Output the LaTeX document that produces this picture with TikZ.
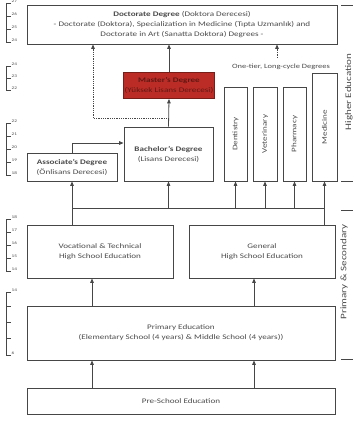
\documentclass[tikz,border=0pt]{standalone}
\usepackage{fontspec}
\setmainfont{Carlito}[FakeStretch=1.3]
\usetikzlibrary{arrows.meta}

\definecolor{linegray}{RGB}{70,70,70}
\definecolor{textgray}{RGB}{75,75,75}
\definecolor{masterred}{RGB}{188,44,38}
\definecolor{masterline}{RGB}{120,30,25}

\begin{document}
\begin{tikzpicture}[
            x=1pt, y=-1pt,
            box/.style={draw=linegray, line width=0.9pt, fill=white, inner sep=0pt,
                align=center, text=textgray, font=\fontsize{7}{10}\selectfont},
            arr/.style={draw=linegray, line width=0.8pt, -{Triangle[length=4.5pt,width=3.6pt]}},
            dotarr/.style={arr, densely dotted},
            agetick/.style={draw=linegray, line width=0.7pt},
            agelabel/.style={anchor=west, inner sep=0.5pt, text=textgray, font=\fontsize{4}{4}\selectfont},
            sidelabel/.style={rotate=90, text=textgray, font=\fontsize{8.5}{9}\selectfont}
        ]
            \useasboundingbox[fill=white] (0,0) rectangle (353,433);

            \node[box, minimum width=310pt, minimum height=39pt] (doc) at (182,24.5)
                {\textbf{Doctorate Degree} (Doktora Derecesi)\\
                 - Doctorate (Doktora), Specialization in Medicine (Tıpta Uzmanlık) and\\
                 Doctorate in Art (Sanatta Doktora) Degrees -};
            \node[box, fill=masterred, draw=masterline, text=masterline!80!black,
                minimum width=91pt, minimum height=26pt] (master) at (169,85.5)
                {\textbf{Master's Degree}\\(Yüksek Lisans Derecesi)};
            \node[box, minimum width=89pt, minimum height=54pt] (bach) at (168.5,154)
                {\textbf{Bachelor's Degree}\\(Lisans Derecesi)};
            \node[box, minimum width=90pt, minimum height=28pt] (assoc) at (72,167)
                {\textbf{Associate's Degree}\\(Önlisans Derecesi)};

            \node[text=textgray, font=\fontsize{6.5}{7}\selectfont] (tier) at (281,67)
                {One-tier, Long-cycle Degrees};
            \node[box, minimum width=23pt, minimum height=94pt] (dent) at (235.5,134)
                {\rotatebox{90}{Dentistry}};
            \node[box, minimum width=24pt, minimum height=94pt] (vet) at (265,134)
                {\rotatebox{90}{Veterinary}};
            \node[box, minimum width=23pt, minimum height=94pt] (pharm) at (294.5,134)
                {\rotatebox{90}{Pharmacy}};
            \node[box, minimum width=25pt, minimum height=108pt] (med) at (324.5,127)
                {\rotatebox{90}{Medicine}};

            \node[box, minimum width=146pt, minimum height=53pt] (voc) at (100,251.5)
                {Vocational \& Technical\\High School Education};
            \node[box, minimum width=146pt, minimum height=53pt] (gen) at (262,251.5)
                {General\\High School Education};
            \node[box, minimum width=308pt, minimum height=54pt] (prim) at (181,333)
                {Primary Education\\(Elementary School (4 years) \& Middle School (4 years))};
            \node[box, minimum width=308pt, minimum height=26pt] (pre) at (181,401)
                {Pre-School Education};

            \coordinate (busL) at (72,208);
            \coordinate (busR) at (324.5,208);
            \coordinate (split) at (168.5,118);
            \coordinate (dotcorner) at (93,118);
            \coordinate (tierx) at (277,58);

            \draw[arr] (voc.north -| assoc.south) -- (assoc.south);
            \draw[arr] (gen.north -| med.south) -- (med.south);
            \draw[draw=linegray, line width=0.8pt] (busL) -- (busR);
            \foreach \n in {bach,dent,vet,pharm} {
                \draw[arr] (busL -| \n.south) -- (\n.south);
            }
            \draw[arr] (assoc.north) |- ([yshift=11pt]bach.west);
            \draw[arr] (bach.north) -- (master.south);
            \draw[arr] (master.north) -- (master.north |- doc.south);
            \draw[dotarr] (split) -- (dotcorner) -- (dotcorner |- doc.south);
            \draw[dotarr] (tierx) -- (tierx |- doc.south);
            \foreach \n in {voc,gen} {
                \draw[arr] ([xshift=-8pt]prim.north -| \n.south) -- ([xshift=-8pt]\n.south);
                \draw[arr] ([xshift=-8pt]pre.north -| \n.south) -- ([xshift=-8pt]prim.south -| \n.south);
            }

            \foreach \ys/\age in {3/{27},16/{26},29/{25},42/{24}} {
                \draw[agetick] (6,\ys) -- (11,\ys);
                \node[agelabel] at (11,\ys-2) {\age};
            }
            \draw[agetick] (6,3) -- (6,42);
            \foreach \ys/\age in {66/{24},78/{23},90/{22}} {
                \draw[agetick] (6,\ys) -- (11,\ys);
                \node[agelabel] at (11,\ys-2) {\age};
            }
            \draw[agetick] (6,66) -- (6,90);
            \foreach \ys/\age in {123/{22},136/{21},149/{20},162/{19},175/{18}} {
                \draw[agetick] (6,\ys) -- (11,\ys);
                \node[agelabel] at (11,\ys-2) {\age};
            }
            \draw[agetick] (6,123) -- (6,175);
            \foreach \ys/\age in {219/{18},232/{17},245/{16},258/{15},271/{14}} {
                \draw[agetick] (6,\ys) -- (11,\ys);
                \node[agelabel] at (11,\ys-2) {\age};
            }
            \draw[agetick] (6,219) -- (6,271);
            \foreach \ys/\age in {292/{14},306/{},322/{},338/{},355/{6}} {
                \draw[agetick] (6,\ys) -- (11,\ys);
                \node[agelabel] at (11,\ys-2) {\age};
            }
            \draw[agetick] (6,292) -- (6,355);

            \foreach \ys in {5,181,210,359} {
                \draw[agetick] (341,\ys) -- (353,\ys);
            }
            \node[sidelabel] (higher) at (349,92) {Higher Education};
            \node[sidelabel] (second) at (344,272) {Primary \& Secondary};
        \end{tikzpicture}
\end{document}
